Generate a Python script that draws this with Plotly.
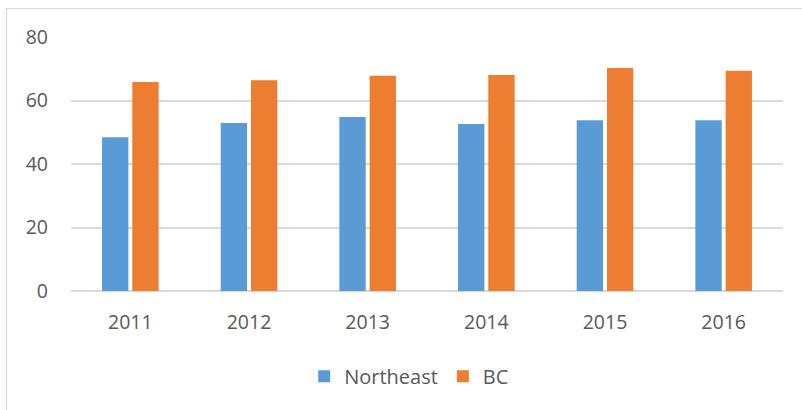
import plotly.graph_objects as go

years = ["2011", "2012", "2013", "2014", "2015", "2016"]
northeast = [48.4, 52.9, 54.8, 52.6, 53.8, 53.8]
bc = [65.8, 66.4, 67.8, 68.0, 70.2, 69.4]
y_ticks = [0, 20, 40, 60, 80]

BLUE = "#5b9bd5"
ORANGE = "#ed7d31"
TEXT = "#595959"
GRID = "#d9d9d9"
FONT = "Open Sans, Noto Sans, sans-serif"

W, H = 802, 410
L, R, T, B = 71, 19, 37, 119

fig = go.Figure()
fig.add_trace(go.Bar(x=years, y=northeast, name="Northeast", marker=dict(color=BLUE, line=dict(width=0))))
fig.add_trace(go.Bar(x=years, y=bc, name="BC", marker=dict(color=ORANGE, line=dict(width=0))))

pw = W - L - R
ph = H - T - B
fig.add_shape(type="rect", xref="paper", yref="paper",
              x0=(6.5 - L) / pw, x1=(W + 5 - L) / pw,
              y0=-(B + 5) / ph, y1=(H - B - 8.5) / ph,
              line=dict(color=GRID, width=1.2), fillcolor="rgba(0,0,0,0)", layer="below")

fig.update_layout(
    width=W, height=H,
    margin=dict(l=L, r=R, t=T, b=B, autoexpand=False),
    paper_bgcolor="white", plot_bgcolor="white",
    barmode="group", bargap=0.49, bargroupgap=0.13,
    font=dict(family=FONT, color=TEXT, size=19.5),
    showlegend=True,
    legend=dict(orientation="h", x=0.475, xanchor="center", y=-0.336, yanchor="middle",
                font=dict(size=20, color=TEXT), itemwidth=30, traceorder="normal",
                bgcolor="rgba(0,0,0,0)"),
    xaxis=dict(showgrid=False, showline=False, zeroline=False, ticks="",
               tickfont=dict(size=19.5, color=TEXT), ticklabelstandoff=17),
    yaxis=dict(range=[0, 80], tickvals=y_ticks, showgrid=True, gridcolor=GRID, gridwidth=1.5,
               zeroline=True, zerolinecolor=GRID, zerolinewidth=1.5, showline=False, ticks="",
               tickfont=dict(size=19.5, color=TEXT), ticklabelstandoff=22),
)

fig.write_html("out.html", config={"displayModeBar": False},
               post_script="document.body.style.margin='0';document.body.style.overflow='hidden';")
